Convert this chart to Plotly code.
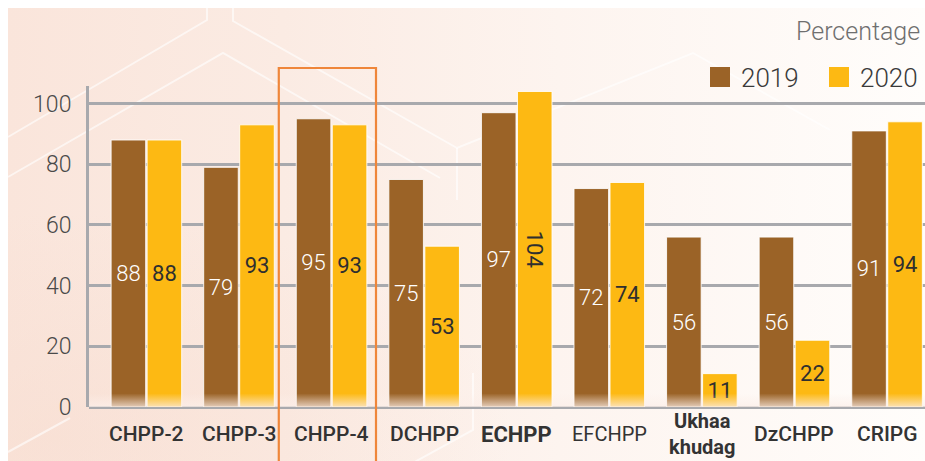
import base64
import plotly.graph_objects as go

# Plant names (category axis), series and values
plants = ["CHPP-2", "CHPP-3", "CHPP-4", "DCHPP", "ECHPP", "EFCHPP", "Ukhaa<br>khudag", "DzCHPP", "CRIPG"]
years = ["2019", "2020"]
values_2019 = [88, 79, 95, 75, 97, 72, 56, 56, 91]
values_2020 = [88, 93, 93, 53, 104, 74, 11, 22, 94]
y_ticks = [0, 20, 40, 60, 80, 100]
unit_label = "Percentage"
highlighted_plant = "CHPP-4"

# Styling
W, H = 925, 461
M_L, M_R, M_T, M_B = 89, 0, 86, 54
PW, PH = W - M_L - M_R, H - M_T - M_B
BROWN, YELLOW = "#9b6327", "#fdb913"
GRID = "#a8a9ad"
TEXT_DARK = "#2f2f2f"
FONT = "Roboto"
label_weight = {"ECHPP": 700, "EFCHPP": 400, "Ukhaa<br>khudag": 700}
label_size = {"ECHPP": 22, "EFCHPP": 20, "Ukhaa<br>khudag": 20}


def px_x(px):
    return (px - M_L) / PW


def px_y(py):
    return (M_T + PH - py) / PH


def svg_uri(svg):
    return "data:image/svg+xml;base64," + base64.b64encode(svg.encode()).decode()


background_svg = f"""<svg xmlns="http://www.w3.org/2000/svg" width="{W}" height="{H}" viewBox="0 0 {W} {H}">
<defs>
<linearGradient id="h" x1="0" y1="0" x2="1" y2="0">
<stop offset="0" stop-color="#fae5db"/>
<stop offset="0.3" stop-color="#fbebe3"/>
<stop offset="0.6" stop-color="#fdf4ef"/>
<stop offset="1" stop-color="#fffdfb"/>
</linearGradient>
<radialGradient id="r" cx="0.05" cy="0.95" r="0.5">
<stop offset="0" stop-color="#f7dccf" stop-opacity="0.5"/>
<stop offset="1" stop-color="#f7dccf" stop-opacity="0"/>
</radialGradient>
</defs>
<rect width="{W}" height="{H}" fill="#ffffff"/>
<rect x="8" y="8" width="{W - 8}" height="{H - 8}" fill="url(#h)"/>
<rect x="8" y="8" width="{W - 8}" height="{H - 8}" fill="url(#r)"/>
<g fill="none" stroke="#ffffff" stroke-width="2" stroke-opacity="0.6">
<polyline points="8,137 207,20 207,8"/>
<polyline points="233,8 233,21 457,148 693,53 830,130"/>
<polyline points="8,177 223,53 440,178"/>
<polyline points="457,148 457,200"/>
<polyline points="473,373 473,430 400,470"/>
<polyline points="8,452 70,418"/>
</g>
</svg>"""

fade_svg = """<svg xmlns="http://www.w3.org/2000/svg" width="100" height="100" viewBox="0 0 100 100" preserveAspectRatio="none">
<defs><linearGradient id="f" x1="0" y1="0" x2="0" y2="1">
<stop offset="0" stop-color="#fcefe9" stop-opacity="0"/>
<stop offset="1" stop-color="#fcefe9" stop-opacity="0.75"/>
</linearGradient></defs>
<rect width="100" height="100" fill="url(#f)"/>
</svg>"""

fig = go.Figure()
fig.add_trace(go.Bar(
    x=plants, y=values_2019, name=years[0],
    marker=dict(color=BROWN, line=dict(color="rgba(255,255,255,0.85)", width=1)),
    text=values_2019, textposition="inside", insidetextanchor="middle",
    constraintext="none",
    textfont=dict(family=FONT, size=22, color="#ffffff", weight=300),
    showlegend=False,
))
fig.add_trace(go.Bar(
    x=plants, y=values_2020, name=years[1],
    marker=dict(color=YELLOW, line=dict(color="rgba(255,255,255,0.85)", width=1)),
    text=values_2020, textposition="inside", insidetextanchor="middle",
    constraintext="none",
    textfont=dict(family=FONT, size=22, color=TEXT_DARK, weight=400),
    showlegend=False,
))

annotations = []
# Category labels under the axis
for p in plants:
    annotations.append(dict(
        x=p, xref="x", y=0, yref="paper", yshift=-27, yanchor="middle",
        text=p, showarrow=False,
        font=dict(family=FONT, size=label_size.get(p, 21), color="#333333",
                  weight=label_weight.get(p, 500)),
    ))

# Unit caption
annotations.append(dict(
    x=px_x(922), xref="paper", xanchor="right", y=px_y(31), yref="paper", yanchor="middle",
    text=unit_label, showarrow=False,
    font=dict(family=FONT, size=25, color="#6f6f6f", weight=300),
))

# Custom legend: swatch + year
shapes = []
legend_items = [(years[0], BROWN, 710), (years[1], YELLOW, 829)]
for name, color, left in legend_items:
    shapes.append(dict(
        type="rect", xref="paper", yref="paper",
        x0=px_x(left), x1=px_x(left + 20), y0=px_y(87), y1=px_y(67),
        fillcolor=color, line=dict(width=0), layer="above",
    ))
    annotations.append(dict(
        x=px_x(left + 29), xref="paper", xanchor="left", y=px_y(77.5), yref="paper", yanchor="middle",
        text=name, showarrow=False,
        font=dict(family=FONT, size=26, color="#3a3a3a", weight=300),
    ))

# Outline around the highlighted plant
hi = plants.index(highlighted_plant)
shapes.append(dict(
    type="rect", xref="x", yref="paper",
    x0=hi - 0.57, x1=hi + 0.48, y0=px_y(470), y1=px_y(68),
    line=dict(color="#ef863a", width=2.2), fillcolor="rgba(0,0,0,0)", layer="above",
))

fig.update_layout(
    width=W, height=H,
    margin=dict(l=M_L, r=M_R, t=M_T, b=M_B, pad=0),
    paper_bgcolor="#ffffff", plot_bgcolor="rgba(0,0,0,0)",
    barmode="group", bargap=0.222, bargroupgap=0.04,
    font=dict(family=FONT),
    annotations=annotations, shapes=shapes,
    images=[
        dict(source=svg_uri(background_svg), xref="paper", yref="paper",
             x=-M_L / PW, y=1 + M_T / PH, sizex=W / PW, sizey=H / PH,
             xanchor="left", yanchor="top", sizing="stretch", layer="below"),
        dict(source=svg_uri(fade_svg), xref="paper", yref="y",
             x=0, y=4.5, sizex=1, sizey=4.5,
             xanchor="left", yanchor="top", sizing="stretch", layer="above"),
    ],
    xaxis=dict(
        type="category", range=[-0.62, 8.41],
        showticklabels=False, showgrid=False, zeroline=False, showline=False, ticks="",
    ),
    yaxis=dict(
        range=[0, 105.8], tickvals=y_ticks,
        showgrid=True, gridcolor=GRID, gridwidth=3,
        zeroline=True, zerolinecolor=GRID, zerolinewidth=3,
        showline=True, linecolor=GRID, linewidth=3,
        ticks="", ticklabelstandoff=10,
        tickfont=dict(family=FONT, size=23, color="#4a4a4a", weight=300),
    ),
)

fig.write_html("out.html")
